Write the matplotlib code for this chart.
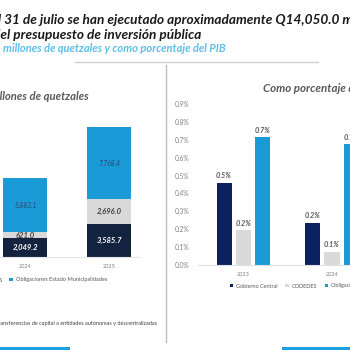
import matplotlib
matplotlib.use("Agg")
import matplotlib.pyplot as plt
from matplotlib.patches import Rectangle
from matplotlib.lines import Line2D

plt.rcParams['font.family'] = ['Lato', 'DejaVu Sans']

# data
series = ["Gobierno Central", "CODEDES", "Obligaciones Estado Municipalidades"]
colors_left = ["#13233f", "#d9d9d9", "#1a9ad6"]
colors_right = ["#0b2160", "#d9d9d9", "#1a9ad6"]

years_q = ["2024", "2025"]
gob_central_q = [2049.2, 3585.7]
codedes_q = [621.0, 2696.0]
oblig_q = [5883.1, 7768.4]

years_pct = ["2023", "2024"]
gob_central_pct = [0.46, 0.235]
codedes_pct = [0.195, 0.073]
oblig_pct = [0.715, 0.676]

W = H = 350


def fx(x):
    return x / W


def fy(y):
    return 1 - y / H


fig = plt.figure(figsize=(3.5, 3.5), dpi=100, facecolor="white")

# titles (the slide is cropped, so these run off the edges)
fig.text(fx(-10), fy(20), "Al 31 de julio se han ejecutado aproximadamente Q14,050.0 millones",
         fontsize=9.8, fontweight="bold", fontstyle="italic", color="#1a1a1a", va="center")
fig.text(fx(-7), fy(35), "del presupuesto de inversión pública",
         fontsize=9.8, fontweight="bold", fontstyle="italic", color="#1a1a1a", va="center")
fig.text(fx(3), fy(48), "millones de quetzales y como porcentaje del PIB",
         fontsize=8, fontweight="bold", fontstyle="italic", color="#5bbfe8", va="center")

# panel frames
fig.add_artist(Line2D([fx(75), fx(318)], [fy(62), fy(62)], color="#d0d0d0", lw=1))
fig.add_artist(Line2D([fx(166), fx(166)], [fy(65), fy(342)], color="#bdbdbd", lw=1))
fig.add_artist(Rectangle((fx(0), fy(350)), fx(70), 3 / H, color="#1ba1e2", lw=0))
fig.add_artist(Rectangle((fx(282), fy(350)), fx(70), 3 / H, color="#1ba1e2", lw=0))

# left panel: stacked bars
fig.text(fx(89), fy(97), "Millones de quetzales", ha="right", va="center",
         fontsize=8.1, fontweight="bold", fontstyle="italic", color="#595959")

ax1 = fig.add_axes([fx(0), fy(257), 140 / W, 147 / H])
x = list(range(len(years_q)))
bw = 0.527
b1 = ax1.bar(x, gob_central_q, bw, color=colors_left[0], label=series[0])
b2 = ax1.bar(x, codedes_q, bw, bottom=gob_central_q, color=colors_left[1], label=series[1])
base3 = [a + b for a, b in zip(gob_central_q, codedes_q)]
b3 = ax1.bar(x, oblig_q, bw, bottom=base3, color=colors_left[2], label=series[2])
ax1.bar_label(b1, labels=[f"{v:,.1f}" for v in gob_central_q], label_type="center",
              fontsize=5.5, fontweight="bold", fontstyle="italic", color="white")
ax1.bar_label(b2, labels=[f"{v:,.1f}" for v in codedes_q], label_type="center",
              fontsize=5.5, fontweight="bold", fontstyle="italic", color="#404040")
ax1.bar_label(b3, labels=[f"{v:,.1f}" for v in oblig_q], label_type="center",
              fontsize=4.8, fontstyle="italic", color="#23476e")
ax1.set_xlim(-0.305, 1.371)
ax1.set_ylim(0, 15900)
ax1.set_xticks(x, years_q)
ax1.set_yticks([])
ax1.tick_params(axis="x", length=0, labelsize=4, labelcolor="#808080", pad=5)
for s in ["top", "right", "left"]:
    ax1.spines[s].set_visible(False)
ax1.spines["bottom"].set_color("#e6e6e6")
ax1.set_facecolor("none")
ax1.legend(handles=[b1, b2, b3], loc="center right", bbox_to_anchor=(fx(107), fy(280)),
           bbox_transform=fig.transFigure, ncol=3, frameon=False, fontsize=4.1,
           handlelength=0.6, handleheight=0.6, handletextpad=0.5, columnspacing=1.2,
           borderpad=0, borderaxespad=0, labelcolor="#595959")

# right panel: grouped bars
fig.text(fx(263), fy(88), "Como porcentaje del PIB", ha="left", va="center",
         fontsize=8.3, fontweight="bold", fontstyle="italic", color="#595959")

ax2 = fig.add_axes([fx(198), fy(265), 202 / W, 161 / H])
xs = list(range(len(years_pct)))
off = 0.22
w2 = 0.17
bars = []
for i, (vals, c, name) in enumerate(zip([gob_central_pct, codedes_pct, oblig_pct], colors_right, series)):
    b = ax2.bar([xx + (i - 1) * off for xx in xs], vals, w2, color=c, label=name)
    ax2.bar_label(b, labels=[f"{v:.1f}%" for v in vals], padding=2.5,
                  fontsize=5.2, fontweight="bold", fontstyle="italic", color="#595959")
    bars.append(b)
ax2.set_xlim(-0.514, 1.768)
ax2.set_ylim(0, 0.9)
ax2.set_yticks([i / 10 for i in range(10)], [f"{i / 10:.1f}%" for i in range(10)])
ax2.set_xticks(xs, years_pct)
ax2.tick_params(axis="y", length=0, labelsize=4.8, labelcolor="#808080", pad=6)
ax2.tick_params(axis="x", length=0, labelsize=4, labelcolor="#808080", pad=5)
for s in ["top", "right", "left"]:
    ax2.spines[s].set_visible(False)
ax2.spines["bottom"].set_color("#e0e0e0")
ax2.set_facecolor("none")
ax2.legend(handles=bars, loc="center left", bbox_to_anchor=(fx(230), fy(286)),
           bbox_transform=fig.transFigure, ncol=3, frameon=False, fontsize=4,
           handlelength=0.6, handleheight=0.6, handletextpad=0.5, columnspacing=1.4,
           borderpad=0, borderaxespad=0, labelcolor="#595959")

# footnote
fig.text(fx(157), fy(323), "Transferencias de capital a entidades autónomas y descentralizadas",
         ha="right", va="center", fontsize=4, color="#404040")

fig.savefig("out.png", dpi=100)
